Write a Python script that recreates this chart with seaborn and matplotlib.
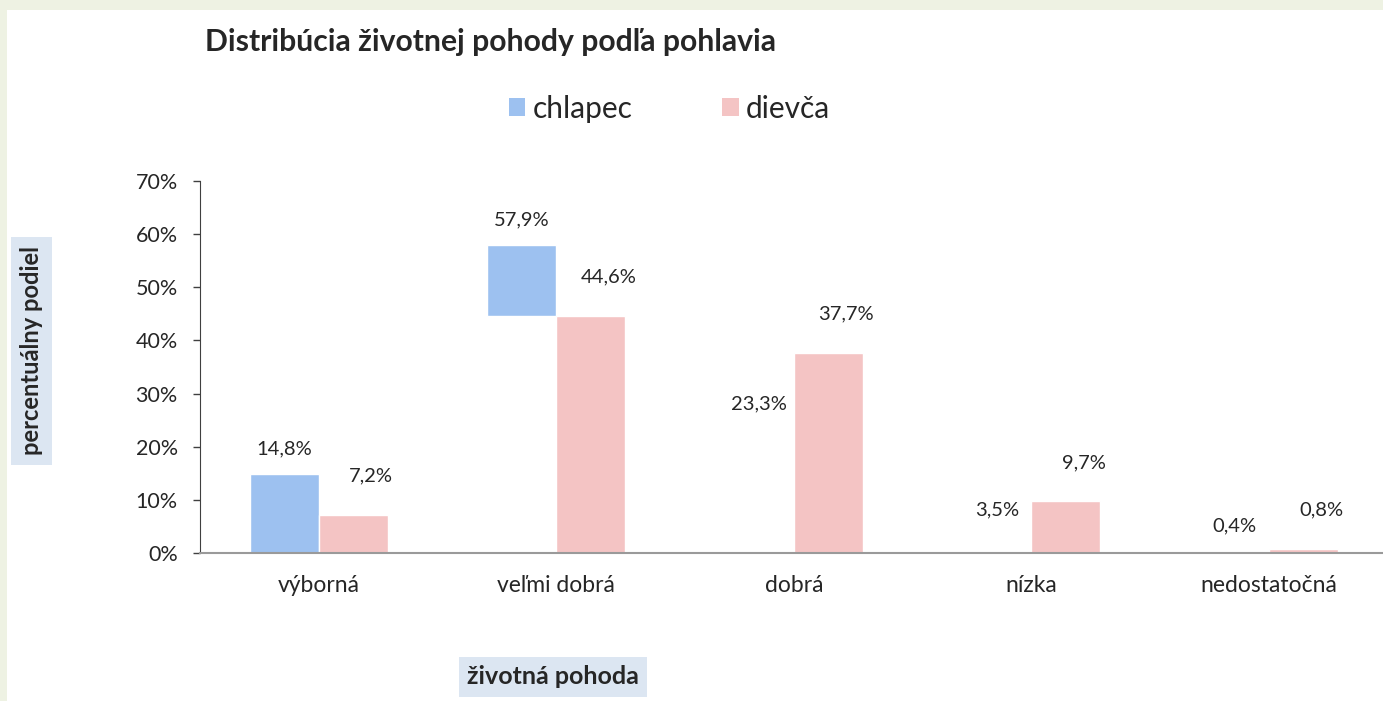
import matplotlib
matplotlib.use('Agg')
import matplotlib.pyplot as plt
import matplotlib.patches as mpatches
from matplotlib.ticker import FuncFormatter, FixedLocator
import seaborn as sns
import pandas as pd

kategorie = ['výborná', 'veľmi dobrá', 'dobrá', 'nízka', 'nedostatočná']
chlapec = [14.8, 57.9, 23.3, 3.5, 0.4]
dievca = [7.2, 44.6, 37.7, 9.7, 0.8]
# in the source picture the blue bars are only visible above these levels
chlapec_skryte_pod = [0.0, 44.6, 23.3, 3.5, 0.4]
pohlavie = ['chlapec', 'dievča']
farby = ['#9DC1F0', '#F4C4C4']
y_ticky = [0, 10, 20, 30, 40, 50, 60, 70]

df = pd.DataFrame({
    'pohoda': kategorie * 2,
    'podiel': chlapec + dievca,
    'pohlavie': ['chlapec'] * len(kategorie) + ['dievča'] * len(kategorie),
})

sns.set_style('white')
plt.rcParams['font.family'] = ['Lato', 'DejaVu Sans']

W, H = 1383, 701
fig = plt.figure(figsize=(W / 100, H / 100), dpi=100, facecolor='#EEF2E3')
fig.patches.append(mpatches.Rectangle((7 / W, 0), 1, 1 - 10 / H, transform=fig.transFigure,
                                      facecolor='white', edgecolor='none', zorder=0))

ax = fig.add_axes([200 / W, 148 / H, 1187.5 / W, 372 / H])
ax.set_zorder(2)
ax.set_facecolor('none')
sns.barplot(data=df, x='pohoda', y='podiel', hue='pohlavie', order=kategorie,
            hue_order=pohlavie, palette=farby, width=0.58, saturation=1,
            edgecolor='white', linewidth=1, legend=False, ax=ax)

# blue bars: cut away the part hidden in the reference
for bar, v, b in zip(ax.containers[0], chlapec, chlapec_skryte_pod):
    bar.set_y(b)
    bar.set_height(max(v - b, 0))

def fmt(v):
    return f'{v:.1f}'.replace('.', ',') + '%'

for bar, v in zip(ax.containers[0], chlapec):
    ax.annotate(fmt(v), (bar.get_x() + bar.get_width() / 2, v), xytext=(0, 18),
                textcoords='offset points', ha='center', va='center', fontsize=14.5)
for bar, v in zip(ax.containers[1], dievca):
    ax.annotate(fmt(v), (bar.get_x() + bar.get_width() / 2, v), xytext=(13, 28),
                textcoords='offset points', ha='center', va='center', fontsize=14.5)

ax.set_xlim(-0.5, 4.5)
ax.set_ylim(0, 70)
ax.yaxis.set_major_locator(FixedLocator(y_ticky))
ax.yaxis.set_major_formatter(FuncFormatter(lambda v, p: f'{v:.0f}%'))
ax.set_xticks(range(len(kategorie)))
ax.set_xticklabels(kategorie)
ax.xaxis.set_minor_locator(FixedLocator([i - 0.5 for i in range(len(kategorie) + 1)]))
ax.tick_params(axis='x', which='major', length=0, pad=16, labelsize=16.5)
ax.tick_params(axis='x', which='minor', length=6, width=1, color='#8C8C8C', direction='out')
ax.tick_params(axis='y', length=5, width=1, color='#404040', pad=11, labelsize=15.5, left=True)
ax.set_xlabel('')
ax.set_ylabel('')
for s in ['top', 'right']:
    ax.spines[s].set_visible(False)
ax.spines['left'].set_color('#404040')
ax.spines['bottom'].set_color('#9A9A9A')
ax.spines['bottom'].set_linewidth(1.5)

fig.text(205 / W, 1 - 42 / H, 'Distribúcia životnej pohody podľa pohlavia',
         ha='left', va='center', fontsize=21.7, fontweight='bold')

handles = [mpatches.Patch(facecolor=c, edgecolor='none', label=l) for c, l in zip(farby, pohlavie)]
fig.legend(handles=handles, loc='center', bbox_to_anchor=(669.5 / W, 1 - 109 / H), ncol=2,
           frameon=False, fontsize=21.5, handlelength=0.55, handleheight=0.55,
           handletextpad=0.25, columnspacing=3.0)

fig.patches.append(mpatches.Rectangle((11 / W, 1 - 465 / H), 41 / W, 228 / H, transform=fig.transFigure,
                                      facecolor='#DCE6F2', edgecolor='none', zorder=1))
fig.text(32 / W, 1 - 351 / H, 'percentuálny podiel', rotation=90, ha='center', va='center',
         fontsize=17, fontweight='bold')
fig.patches.append(mpatches.Rectangle((459 / W, 1 - 697 / H), 188 / W, 40 / H, transform=fig.transFigure,
                                      facecolor='#DCE6F2', edgecolor='none', zorder=1))
fig.text(553 / W, 1 - 677 / H, 'životná pohoda', ha='center', va='center',
         fontsize=18, fontweight='bold')

fig.savefig('out.png', dpi=100, facecolor=fig.get_facecolor())
